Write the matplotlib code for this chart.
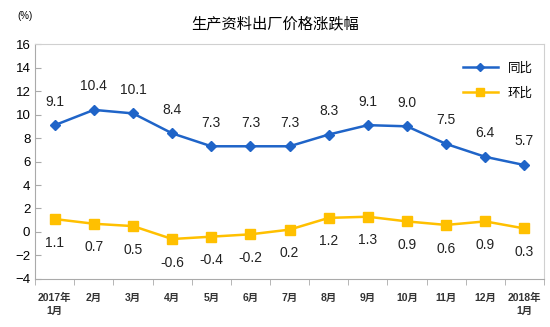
import matplotlib.pyplot as plt
import numpy as np

plt.rcParams['font.family'] = ['Liberation Sans', 'Noto Sans CJK SC', 'DejaVu Sans']

# data
months = ['2017年\n1月', '2月', '3月', '4月', '5月', '6月', '7月', '8月', '9月',
          '10月', '11月', '12月', '2018年\n1月']
yoy = [9.1, 10.4, 10.1, 8.4, 7.3, 7.3, 7.3, 8.3, 9.1, 9.0, 7.5, 6.4, 5.7]
mom = [1.1, 0.7, 0.5, -0.6, -0.4, -0.2, 0.2, 1.2, 1.3, 0.9, 0.6, 0.9, 0.3]

blue = '#1f64c8'
yellow = '#ffc000'

fig = plt.figure(figsize=(5.5, 3.27), dpi=100)
ax = fig.add_axes([0.064, 0.147, 0.925, 0.718])
x = np.arange(len(months))

ax.plot(x, yoy, color=blue, lw=1.8, marker='D', ms=5, label='同比')
ax.plot(x, mom, color=yellow, lw=1.8, marker='s', ms=7, label='环比')

for i in range(len(x)):
    ax.annotate(f'{yoy[i]:.1f}', (x[i], yoy[i]), xytext=(0, 17), textcoords='offset points',
                ha='center', va='center', fontsize=10, color='#222222')
    ax.annotate(f'{mom[i]:.1f}', (x[i], mom[i]), xytext=(0, -17), textcoords='offset points',
                ha='center', va='center', fontsize=10, color='#222222')

ax.set_xlim(-0.5, len(months) - 0.5)
ax.set_ylim(-4, 16)
ax.set_yticks(range(-4, 17, 2))
ax.set_xticks(x)
ax.set_xticklabels(months, fontsize=7.5, fontweight='bold', color='#333333', linespacing=1.4)
ax.tick_params(axis='x', length=0, pad=10)
ax.set_xticks(np.arange(-0.5, len(months), 1), minor=True)
ax.tick_params(axis='x', which='minor', length=4, color='#aaaaaa', direction='out')
ax.tick_params(axis='y', labelsize=9.5, length=4, color='#aaaaaa', direction='in')
for s in ax.spines.values():
    s.set_color('#d0d0d0')
ax.spines['left'].set_color('#aaaaaa')
ax.spines['bottom'].set_color('#aaaaaa')

leg = ax.legend(loc='upper right', frameon=False, fontsize=9, handlelength=2.8,
                labelspacing=1.0, markerscale=0.8, bbox_to_anchor=(1.0, 0.97))

fig.text(0.5, 0.925, '生产资料出厂价格涨跌幅', ha='center', va='center', fontsize=11)
fig.text(0.045, 0.95, '(%)', ha='center', va='center', fontsize=7)

fig.savefig('out.png', dpi=100)
